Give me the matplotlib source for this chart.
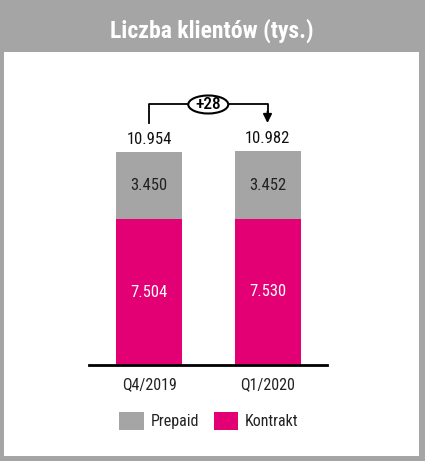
import matplotlib
matplotlib.use("Agg")
import matplotlib.pyplot as plt
from matplotlib.patches import Rectangle, Ellipse
from matplotlib import font_manager

categories = ["Q4/2019", "Q1/2020"]
kontrakt = [7504, 7530]
prepaid = [3450, 3452]
totals = [10954, 10982]
kontrakt_labels = ["7.504", "7.530"]
prepaid_labels = ["3.450", "3.452"]
total_labels = ["10.954", "10.982"]
delta_label = "+28"
title = "Liczba klientów (tys.)"
legend_labels = ["Prepaid", "Kontrakt"]

GREY = "#a5a5a5"
PINK = "#e20074"

names = {f.name for f in font_manager.fontManager.ttflist}
FONT = "DejaVu Sans"
for cand in ["Roboto Condensed", "Archivo Narrow", "Barlow Semi Condensed", "Liberation Sans Narrow"]:
    if cand in names:
        FONT = cand
        break
plt.rcParams["font.family"] = [FONT, "DejaVu Sans"]

W, H = 425, 461
fig = plt.figure(figsize=(W / 100, H / 100), dpi=100)
fig.patch.set_facecolor(GREY)

def fx(px):
    return px / W

def fy(py):
    return 1 - py / H

# white panel
fig.patches.append(Rectangle((fx(4), fy(456)), fx(419) - fx(4), fy(52) - fy(456),
                             transform=fig.transFigure, facecolor="white", edgecolor="none", zorder=-5))
fig.text(fx(212), fy(31), title, color="white", fontsize=17, fontweight="bold",
         ha="center", va="center")

# axes: x from 89 to 327 px, baseline at 365 px, top at 60 px
ax_left, ax_right, ax_bottom, ax_top = 89, 327, 365, 60
ax = fig.add_axes([fx(ax_left), fy(ax_bottom), fx(ax_right) - fx(ax_left), fy(ax_top) - fy(ax_bottom)])
ax.set_zorder(2)
ax.set_facecolor("none")
ppu = 118.5
ax.set_xlim(-(149 - ax_left) / ppu, 1 + (ax_right - 267.5) / ppu)
u = 213 / 10954
ymax = (ax_bottom - ax_top) / u
ax.set_ylim(0, ymax)
for s in ["top", "right", "left"]:
    ax.spines[s].set_visible(False)
ax.spines["bottom"].set_linewidth(2)
ax.spines["bottom"].set_color("black")
ax.set_yticks([])
x = [0, 1]
bw = 66 / ppu
ax.bar(x, kontrakt, width=bw, color=PINK)
ax.bar(x, prepaid, bottom=kontrakt, width=bw, color=GREY)
ax.set_xticks(x)
ax.set_xticklabels(categories, fontsize=11.5, color="#222222")
ax.tick_params(axis="x", length=0, pad=9)

for i in x:
    ax.text(i, kontrakt[i] * 0.5, kontrakt_labels[i], ha="center", va="center", fontsize=12, color="white")
    ax.text(i, kontrakt[i] + prepaid[i] * 0.5, prepaid_labels[i], ha="center", va="center", fontsize=12, color="#222222")
    ax.text(i, totals[i] + 650, total_labels[i], ha="center", va="center", fontsize=12, color="#111111")

# bracket arrow
y_low = (ax_bottom - 123) / u
y_top = (ax_bottom - 104.5) / u
ax.plot([0, 0, 1, 1], [y_low, y_top, y_top, y_low + 500], color="black", lw=1.3, clip_on=False, zorder=3)
ax.annotate("", xy=(1, y_low), xytext=(1, y_low + 600),
            arrowprops=dict(arrowstyle="-|>", color="black", lw=1.3, mutation_scale=13, shrinkA=0, shrinkB=0),
            annotation_clip=False)
ell = Ellipse((0.5, y_top), width=40 / ppu, height=18 / u, facecolor="white", edgecolor="black",
              lw=1.5, zorder=4, clip_on=False)
ax.add_patch(ell)
ax.text(0.5, y_top, delta_label, ha="center", va="center", fontsize=12.5, fontweight="medium", zorder=5)

# legend
fig.patches.append(Rectangle((fx(119), fy(430)), fx(25), fy(412) - fy(430), transform=fig.transFigure,
                             facecolor=GREY, edgecolor="none"))
fig.patches.append(Rectangle((fx(214), fy(430)), fx(24), fy(412) - fy(430), transform=fig.transFigure,
                             facecolor=PINK, edgecolor="none"))
fig.text(fx(151), fy(421), legend_labels[0], ha="left", va="center", fontsize=11.5, color="#222222")
fig.text(fx(245), fy(421), legend_labels[1], ha="left", va="center", fontsize=11.5, color="#222222")

fig.savefig("out.png", dpi=100, facecolor=fig.get_facecolor())
